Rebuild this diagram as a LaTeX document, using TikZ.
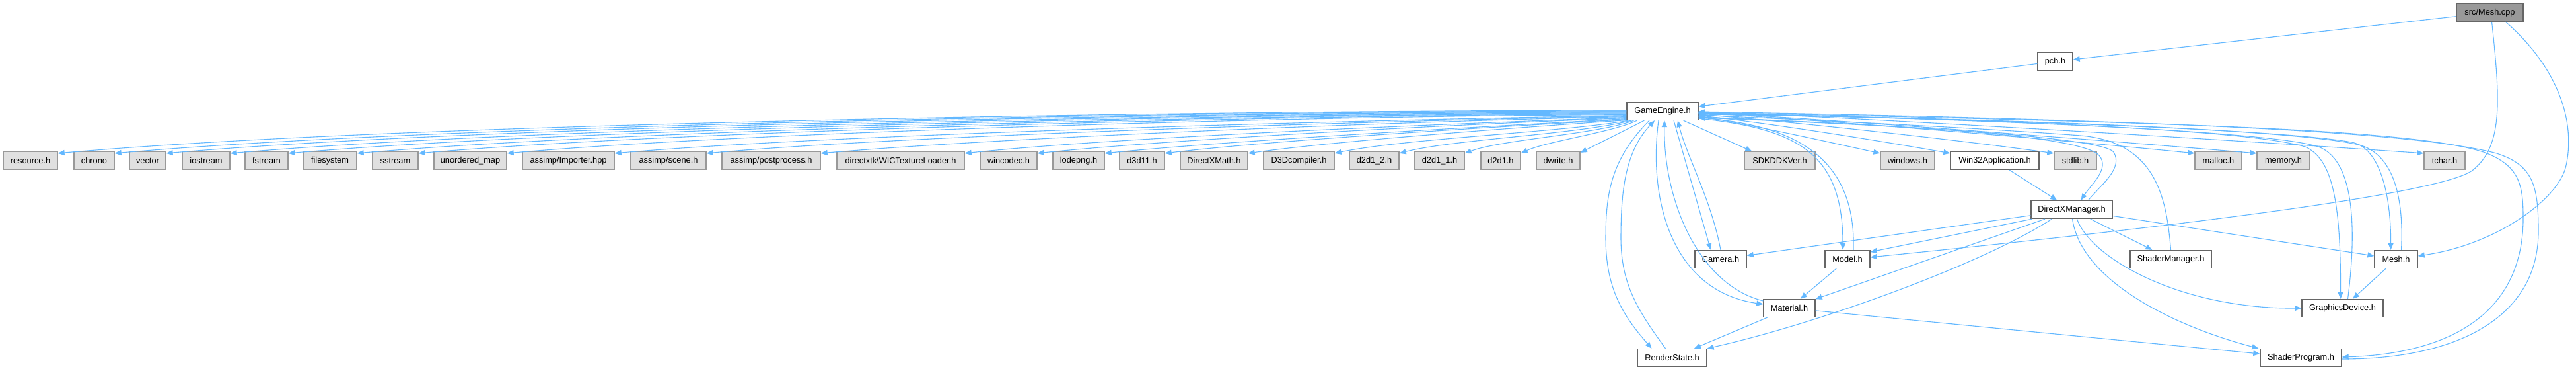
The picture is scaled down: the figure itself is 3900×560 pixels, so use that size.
\documentclass[tikz,border=0pt]{standalone}
\usepackage{fontspec}
\setmainfont{Liberation Sans}
\usetikzlibrary{arrows.meta}
\definecolor{edgeblue}{HTML}{63B8FF}
\definecolor{sysfill}{HTML}{E0E0E0}
\definecolor{sysline}{HTML}{999999}
\definecolor{projline}{HTML}{666666}
\definecolor{srcfill}{HTML}{999999}

\begin{document}
\begin{tikzpicture}[x=1pt,y=1pt,>={Triangle[length=10pt,width=8pt]},
  file/.style={draw,line width=1.3pt,minimum height=27pt,inner sep=0pt,font=\fontsize{12.8}{15}\selectfont},
  sysfile/.style={file,fill=sysfill,draw=sysline},
  projfile/.style={file,fill=white,draw=projline},
  srcfile/.style={file,fill=srcfill,draw=projline},
  dep/.style={->,draw=edgeblue,line width=1.1pt}]
\useasboundingbox[fill=white] (0,0) rectangle (3900,-560);
% top
\node [srcfile,minimum width=101pt] (src) at (3769.5,-19) {src/Mesh.cpp};
\node [projfile,minimum width=53pt] (pch) at (3111.5,-93) {pch.h};
\node [projfile,minimum width=108pt] (ge) at (2517,-168) {GameEngine.h};
% system headers
\node [sysfile,minimum width=82pt] (res) at (46,-243) {resource.h};
\node [sysfile,minimum width=61pt] (chrono) at (142.5,-243) {chrono};
\node [sysfile,minimum width=55pt] (vec) at (223.5,-243) {vector};
\node [sysfile,minimum width=72pt] (iostr) at (312,-243) {iostream};
\node [sysfile,minimum width=65pt] (fstr) at (403.5,-243) {fstream};
\node [sysfile,minimum width=81pt] (fsys) at (499.5,-243) {filesystem};
\node [sysfile,minimum width=69pt] (sstr) at (598.5,-243) {sstream};
\node [sysfile,minimum width=110pt] (umap) at (712,-243) {unordered\_map};
\node [sysfile,minimum width=139pt] (aimp) at (860.5,-243) {assimp/Importer.hpp};
\node [sysfile,minimum width=114pt] (ascene) at (1012,-243) {assimp/scene.h};
\node [sysfile,minimum width=149pt] (apost) at (1167.5,-243) {assimp/postprocess.h};
\node [sysfile,minimum width=193pt] (wic) at (1363.5,-243) {directxtk\textbackslash WICTextureLoader.h};
\node [sysfile,minimum width=86pt] (wincodec) at (1527,-243) {wincodec.h};
\node [sysfile,minimum width=78pt] (lodepng) at (1633,-243) {lodepng.h};
\node [sysfile,minimum width=68pt] (dxe) at (1729,-243) {d3d11.h};
\node [sysfile,minimum width=102pt] (dxmath) at (1838,-243) {DirectXMath.h};
\node [sysfile,minimum width=107pt] (dcomp) at (1966.5,-243) {D3Dcompiler.h};
\node [sysfile,minimum width=75pt] (ddtwo) at (2080.5,-243) {d2d1\_2.h};
\node [sysfile,minimum width=75pt] (ddone) at (2179.5,-243) {d2d1\_1.h};
\node [sysfile,minimum width=60pt] (dd) at (2272,-243) {d2d1.h};
\node [sysfile,minimum width=66pt] (dwrite) at (2359,-243) {dwrite.h};
\node [sysfile,minimum width=107pt] (sdk) at (2694.5,-243) {SDKDDKVer.h};
\node [sysfile,minimum width=82pt] (win) at (2888,-243) {windows.h};
\node [projfile,minimum width=134pt] (winapp) at (3020,-243) {Win32Application.h};
\node [sysfile,minimum width=64pt] (stdlib) at (3142,-243) {stdlib.h};
\node [sysfile,minimum width=71pt] (malloc) at (3358.5,-243) {malloc.h};
\node [sysfile,minimum width=80pt] (memory) at (3457,-243) {memory.h};
\node [sysfile,minimum width=62pt] (tchar) at (3701,-243) {tchar.h};
% project headers
\node [projfile,minimum width=123pt] (dxm) at (3136.5,-317) {DirectXManager.h};
\node [projfile,minimum width=78pt] (cam) at (2605,-392) {Camera.h};
\node [projfile,minimum width=68pt] (model) at (2797,-392) {Model.h};
\node [projfile,minimum width=123pt] (shmgr) at (3286.5,-392) {ShaderManager.h};
\node [projfile,minimum width=65pt] (mesh) at (3627.5,-392) {Mesh.h};
\node [projfile,minimum width=78pt] (mat) at (2709,-466) {Material.h};
\node [projfile,minimum width=123pt] (gfx) at (3546.5,-466) {GraphicsDevice.h};
\node [projfile,minimum width=105pt] (rstate) at (2531.5,-541) {RenderState.h};
\node [projfile,minimum width=123pt] (sp) at (3483.5,-541) {ShaderProgram.h};
% includes of src/Mesh.cpp and pch.h
\draw [dep] (src) -- (pch);
\draw [dep] (pch) -- (ge);
\draw [dep] ([xshift=3pt]src.south) .. controls (3785,-150) and (3790,-220) .. (3744,-257) .. controls (3689,-301) and (3100,-362) .. ([yshift=3pt]model.east);
\draw [dep] ([xshift=24pt]src.south) .. controls (3870,-100) and (3900,-180) .. (3885,-250) .. controls (3875,-300) and (3780,-370) .. ([yshift=5pt]mesh.east);
% GameEngine.h to the left row
\draw [dep] (ge.179) .. controls +(-558,0) and +(556,49) .. ([yshift=-3pt]res.north east);
\draw [dep] (ge.180) .. controls +(-538,0) and +(536,47) .. ([yshift=-3pt]chrono.north east);
\draw [dep] (ge.181) .. controls +(-520,0) and +(518,45) .. ([yshift=-3pt]vec.north east);
\draw [dep] (ge.182) .. controls +(-497,0) and +(495,43) .. ([yshift=-3pt]iostr.north east);
\draw [dep] (ge.183) .. controls +(-476,0) and +(474,41) .. ([yshift=-3pt]fstr.north east);
\draw [dep] (ge.184) .. controls +(-452,0) and +(450,39) .. ([yshift=-3pt]fsys.north east);
\draw [dep] (ge.185) .. controls +(-430,0) and +(428,37) .. ([yshift=-3pt]sstr.north east);
\draw [dep] (ge.186) .. controls +(-399,0) and +(397,35) .. ([yshift=-3pt]umap.north east);
\draw [dep] (ge.187) .. controls +(-360,-6) and +(359,31) .. ([yshift=-3pt]aimp.north east);
\draw [dep] (ge.188) .. controls +(-328,-6) and +(327,29) .. ([yshift=-3pt]ascene.north east);
\draw [dep] (ge.189) .. controls +(-287,-5) and +(286,25) .. ([yshift=-3pt]apost.north east);
\draw [dep] (ge.190) .. controls +(-236,-8) and +(235,25) .. ([yshift=-3pt]wic.north east);
\draw [dep] (ge.191) .. controls +(-210,-7) and +(209,22) .. ([yshift=-3pt]wincodec.north east);
\draw [dep] (ge.192) .. controls +(-186,-10) and +(185,19) .. ([yshift=-3pt]lodepng.north east);
\draw [dep] (ge.193) .. controls +(-165,-9) and +(164,20) .. ([yshift=-3pt]dxe.north east);
\draw [dep] (ge.194) .. controls +(-135,-9) and +(134,19) .. ([yshift=-3pt]dxmath.north east);
\draw [dep] ([xshift=3pt]ge.south west) .. controls +(-103,-18) and +(103,22) .. ([yshift=-3pt]dcomp.north east);
\draw [dep] ([xshift=7pt]ge.south west) .. controls +(-80,-21) and +(80,21) .. ([yshift=-3pt]ddtwo.north east);
\draw [dep] ([xshift=11pt]ge.south west) .. controls +(-56,-21) and +(56,21) .. ([yshift=-3pt]ddone.north east);
\draw [dep] ([xshift=16pt]ge.south west) .. controls +(-38,-18) and +(38,18) .. ([yshift=-3pt]dd.north east);
\draw [dep] ([xshift=27pt]ge.south west) -- ([yshift=-2pt]dwrite.north east);
% GameEngine.h to the right row
\draw [dep] ([xshift=-23pt]ge.south east) -- ([xshift=12pt]sdk.north west);
\draw [dep] ([yshift=-8pt]ge.east) .. controls +(64,-9) and +(-64,14) .. ([yshift=-3pt]win.north west);
\draw [dep] ([yshift=-7pt]ge.east) .. controls +(90,-8) and +(-89,16) .. ([yshift=-3pt]winapp.north west);
\draw [dep] ([yshift=-5pt]ge.east) .. controls +(127,-9) and +(-126,18) .. ([yshift=-3pt]stdlib.north west);
\draw [dep] ([yshift=-3pt]ge.east) .. controls +(177,-9) and +(-176,18) .. ([yshift=-3pt]malloc.north west);
\draw [dep] ([yshift=-2pt]ge.east) .. controls +(199,-10) and +(-198,17) .. ([yshift=-3pt]memory.north west);
\draw [dep] ([yshift=-1pt]ge.east) .. controls +(258,-9) and +(-257,18) .. ([yshift=-3pt]tchar.north west);
% GameEngine.h and the project headers
\draw [dep] ([xshift=17pt]ge.south) -- ([xshift=-15pt]cam.north);
\draw [dep] (cam.north) .. controls (2590,-300) and (2555,-240) .. ([xshift=23pt]ge.south);
\draw [dep] ([yshift=-11pt]ge.east) .. controls (2720,-195) and (2790,-230) .. ([xshift=-7pt]model.north);
\draw [dep] ([xshift=9pt]model.north) .. controls (2810,-240) and (2720,-190) .. ([yshift=-10pt]ge.east);
\draw [dep] ([xshift=-6pt]ge.south) .. controls (2495,-300) and (2530,-440) .. ([yshift=6pt]mat.west);
\draw [dep] ([yshift=11pt]mat.west) .. controls (2570,-430) and (2518,-300) .. ([xshift=3pt]ge.south);
\draw [dep] ([xshift=-20pt]ge.south) .. controls (2440,-240) and (2431,-290) .. (2431,-360) .. controls (2431,-440) and (2460,-480) .. ([xshift=-31pt]rstate.north);
\draw [dep] ([xshift=-10pt]rstate.north) .. controls (2480,-470) and (2454,-430) .. (2454,-360) .. controls (2454,-290) and (2460,-230) .. ([xshift=-12pt]ge.south);
\draw [dep] ([yshift=-9pt]ge.east) .. controls (2900,-190) and (3150,-205) .. (3178,-235) .. controls (3195,-255) and (3165,-280) .. ([xshift=14pt]dxm.north);
\draw [dep] ([xshift=25pt]dxm.north) .. controls (3180,-280) and (3215,-255) .. (3200,-230) .. controls (3185,-210) and (2950,-192) .. ([yshift=-10pt]ge.east);
\draw [dep] (shmgr.north) .. controls (3280,-300) and (3265,-215) .. (3150,-205) .. controls (2950,-190) and (2700,-180) .. ([yshift=-6pt]ge.east);
\draw [dep] ([yshift=-4pt]ge.east) .. controls (3000,-180) and (3450,-195) .. (3560,-215) .. controls (3605,-223) and (3620,-300) .. ([xshift=-8pt]mesh.north);
\draw [dep] ([xshift=8pt]mesh.north) .. controls (3640,-290) and (3620,-235) .. (3575,-220) .. controls (3480,-195) and (3000,-178) .. ([yshift=-5pt]ge.east);
\draw [dep] ([yshift=-3pt]ge.east) .. controls (3000,-180) and (3400,-195) .. (3490,-222) .. controls (3530,-240) and (3544,-300) .. ([xshift=-3pt]gfx.north);
\draw [dep] ([xshift=8pt]gfx.north) .. controls (3570,-330) and (3560,-240) .. (3510,-222) .. controls (3440,-198) and (3000,-180) .. ([yshift=-3pt]ge.east);
\draw [dep] ([yshift=-2pt]ge.east) .. controls (3300,-185) and (3650,-195) .. (3760,-230) .. controls (3815,-250) and (3820,-280) .. (3820,-330) .. controls (3820,-480) and (3700,-535) .. ([yshift=1pt]sp.east);
\draw [dep] ([yshift=-2pt]sp.east) .. controls (3720,-543) and (3843,-480) .. (3843,-350) .. controls (3843,-280) and (3835,-250) .. (3780,-232) .. controls (3660,-200) and (3300,-182) .. ([yshift=-1pt]ge.east);
% DirectXManager.h and the rest
\draw [dep] (winapp) -- (dxm);
\draw [dep] (dxm) -- (cam);
\draw [dep] ([xshift=2pt]dxm.south west) -- ([yshift=11pt]model.east);
\draw [dep] (dxm) -- (mat);
\draw [dep] ([xshift=32pt]dxm.south west) .. controls (3000,-400) and (2750,-490) .. (rstate.north east);
\draw [dep] (dxm) -- (shmgr);
\draw [dep] (dxm) -- (mesh);
\draw [dep] ([xshift=8pt]dxm.south) .. controls (3165,-390) and (3300,-467) .. (gfx.west);
\draw [dep] ([xshift=1pt]dxm.south) .. controls (3150,-420) and (3280,-490) .. ([xshift=-2pt]sp.north west);
\draw [dep] (model) -- (mat);
\draw [dep] (mat) -- (rstate);
\draw [dep] (mat) -- (sp);
\draw [dep] (mesh) -- (gfx);
\end{tikzpicture}
\end{document}
